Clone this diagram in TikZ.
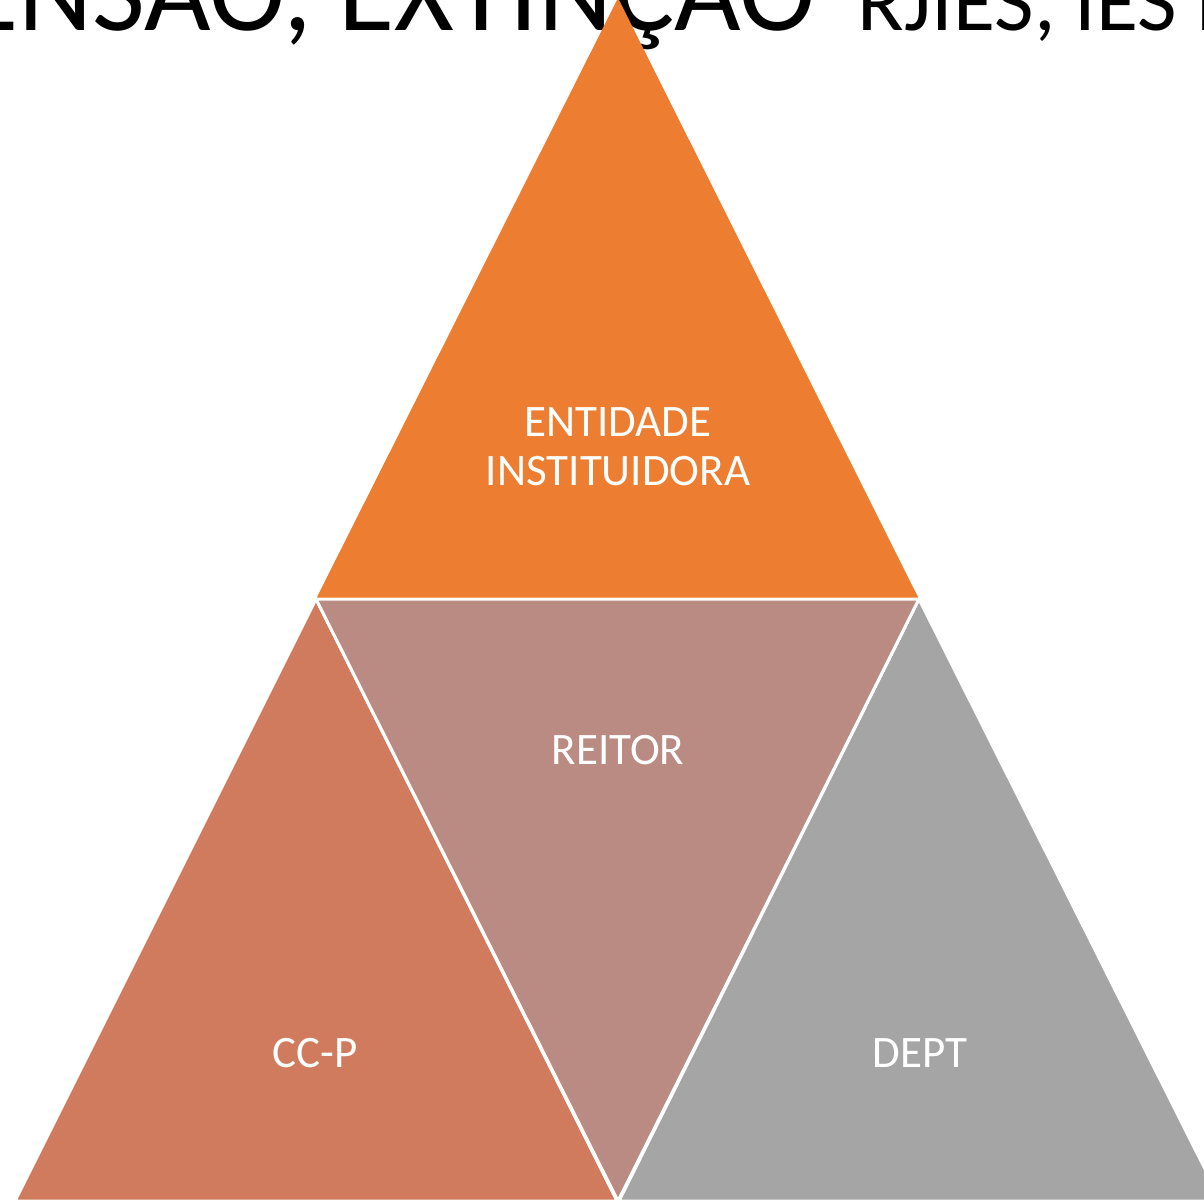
\documentclass[tikz,border=0pt]{standalone}
\usepackage{fontspec}
\setmainfont{Carlito}
\definecolor{cOrange}{HTML}{ED7D31}
\definecolor{cCCP}{HTML}{D07B5E}
\definecolor{cReitor}{HTML}{BA8B82}
\definecolor{cDept}{HTML}{A5A5A5}
\begin{document}
\begin{tikzpicture}[x=1pt,y=-1pt,
  tri/.style={draw=white,line width=3pt,line join=miter},
  lbl/.style={text=white,font=\fontsize{45}{49}\selectfont,align=center,inner sep=0pt},
  ttl/.style={anchor=base west,inner sep=0pt,text=black}]
\useasboundingbox (0,0) rectangle (1204,1200);
\clip (0,0) rectangle (1204,1200);
% title (cut off at the top)
\node[ttl] (title1) at (-38,30) {\fontsize{115}{120}\selectfont ENSÃO, EXTINÇÃO};
\node[ttl,anchor=base west] (title2) at ([xshift=22pt]title1.base east) {\fontsize{86}{100}\selectfont\ RJIES, IES P};
% triangles
\fill[cOrange] (618,-2) -- (316,599) -- (919,599) -- cycle;
\draw[tri,fill=cCCP] (316,599) -- (15,1201) -- (617,1201) -- cycle;
\draw[tri,fill=cDept] (919,599) -- (619,1201) -- (1221,1201) -- cycle;
\draw[tri,fill=cReitor] (316,599) -- (919,599) -- (618,1201) -- cycle;
% labels
\node[lbl] (ent) at (618,447) {ENTIDADE\\INSTITUIDORA};
\node[lbl] (reitor) at (618,750) {REITOR};
\node[lbl] (ccp) at (315,1053) {CC-P};
\node[lbl] (dept) at (920,1053) {DEPT};
\end{tikzpicture}
\end{document}
